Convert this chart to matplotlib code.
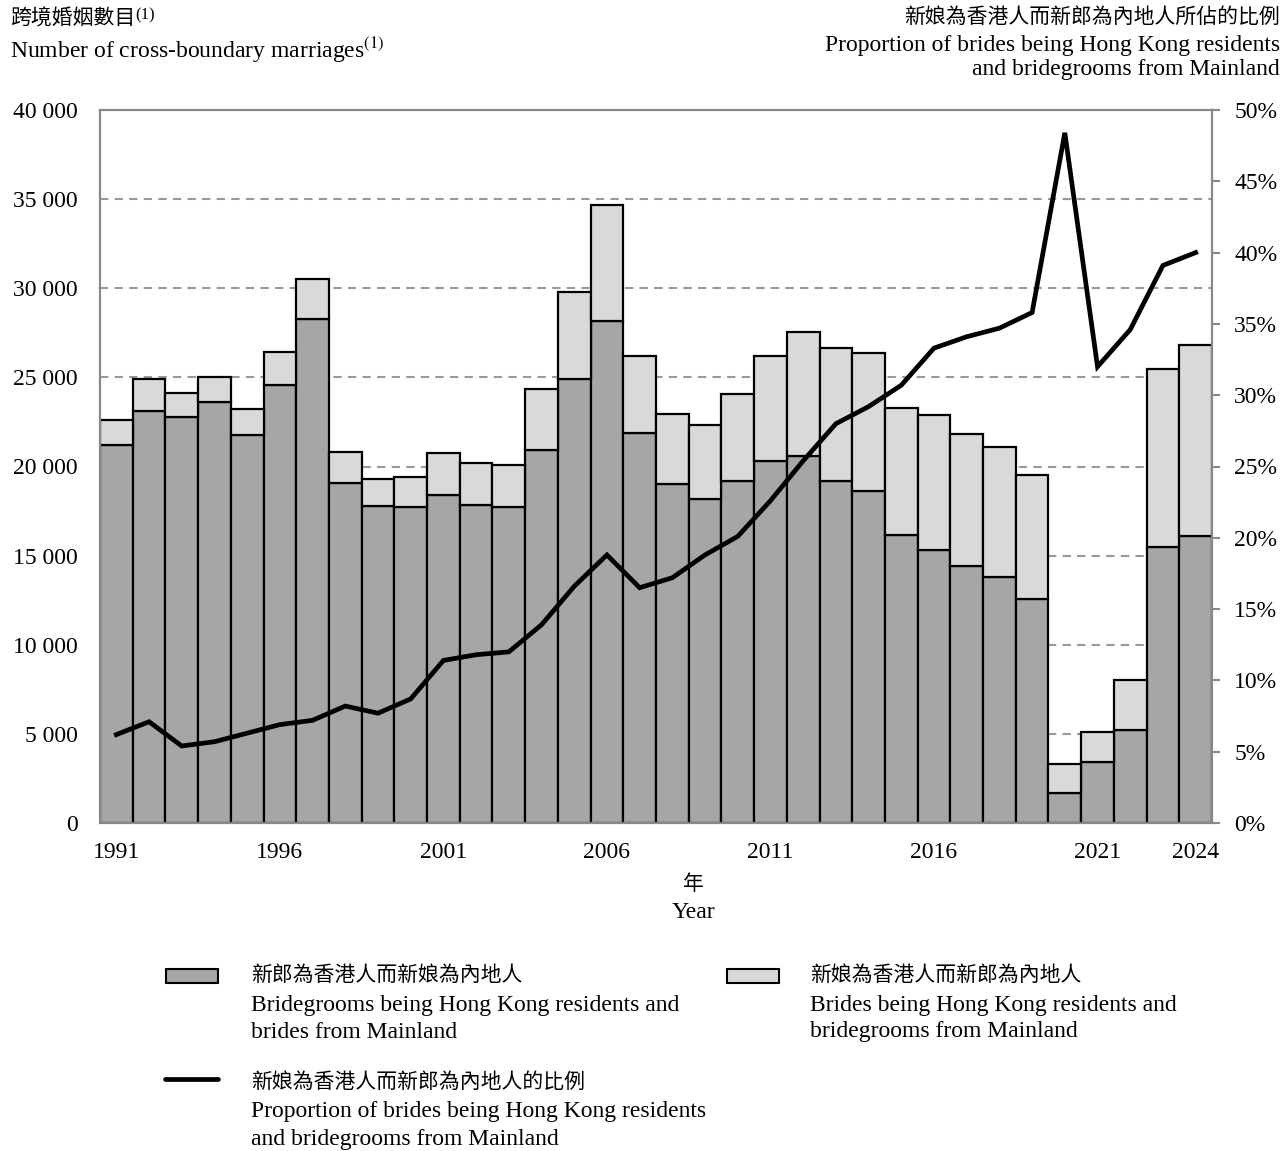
import numpy as np
import matplotlib
matplotlib.use("Agg")
import matplotlib.pyplot as plt
from matplotlib.patches import Rectangle
from matplotlib.lines import Line2D

plt.rcParams['font.family'] = ['Liberation Serif', 'Noto Sans CJK TC']
plt.rcParams['mathtext.fontset'] = 'stix'

# Data
years = list(range(1991, 2025))
groom_hk = [21200, 23100, 22800, 23600, 21750, 24550, 28300, 19100, 17800, 17750,
            18400, 17850, 17700, 20950, 24900, 28150, 21900, 19000, 18150, 19200,
            20300, 20600, 19200, 18650, 16150, 15300, 14400, 13800, 12550,
            1700, 3420, 5230, 15500, 16100]
total = [22600, 24900, 24100, 25000, 23200, 26400, 30500, 20800, 19300, 19400,
         20750, 20200, 20100, 24350, 29800, 34650, 26200, 22950, 22350, 24050,
         26200, 27550, 26650, 26350, 23300, 22900, 21800, 21100, 19550,
         3300, 5090, 8000, 25450, 26800]
bride_hk = [t - g for t, g in zip(total, groom_hk)]
proportion = [6.2, 7.1, 5.4, 5.7, 6.3, 6.9, 7.2, 8.2, 7.7, 8.7,
              11.4, 11.8, 12.0, 13.9, 16.6, 18.8, 16.5, 17.2, 18.8, 20.1,
              22.6, 25.4, 28.0, 29.2, 30.7, 33.3, 34.1, 34.7, 35.8,
              48.4, 32.0, 34.6, 39.1, 40.0]

xtick_years = [1991, 1996, 2001, 2006, 2011, 2016, 2021, 2024]

dark = '#a6a6a6'
light = '#d9d9d9'
W, H = 1284, 1151

fig = plt.figure(figsize=(W / 100, H / 100), dpi=100)
ax = fig.add_axes([100 / W, 1 - 823 / H, 1112 / W, 713 / H])

ax.bar(years, groom_hk, width=1.0, color=dark, edgecolor='black', linewidth=1.6, zorder=2)
ax.bar(years, bride_hk, bottom=groom_hk, width=1.0, color=light, edgecolor='black',
       linewidth=1.6, zorder=2)

ax.set_xlim(1990.5, 2024.5)
ax.set_ylim(0, 40000)
ax.set_yticks(range(0, 40001, 5000))
ax.set_yticklabels([f"{v:,}".replace(",", " ") for v in range(0, 40001, 5000)], fontsize=17)
ax.set_xticks(xtick_years)
ax.set_xticklabels([str(y) for y in xtick_years], fontsize=17)
ax.tick_params(axis='y', length=0, pad=16)
ax.tick_params(axis='x', length=0, pad=14)
for yv in range(5000, 40000, 5000):
    ax.axhline(yv, color='#999999', linestyle=(0, (4, 3)), linewidth=1.5, zorder=1)
for s in ax.spines.values():
    s.set_color('#888888')
    s.set_linewidth(1.5)

ax2 = ax.twinx()
ax2.plot(years, proportion, color='black', linewidth=3.4, zorder=5, solid_joinstyle='miter')
ax2.set_ylim(0, 50)
ax2.set_yticks(range(0, 51, 5))
ax2.set_yticklabels([f"{v}%" for v in range(0, 51, 5)], fontsize=17)
ax2.tick_params(axis='y', length=6, width=1.5, color='#888888', pad=10)
for s in ax2.spines.values():
    s.set_color('#888888')
    s.set_linewidth(1.5)


def px(x, y):
    return x / W, 1 - y / H


# Titles
t1 = fig.text(*px(10, 20), "跨境婚姻數目", fontsize=15, va='center', ha='left')
ax.annotate("(1)", xy=(1.0, 0.75), xycoords=t1, fontsize=12, va='center', ha='left',
            annotation_clip=False)
fig.text(*px(10, 50), "Number of cross-boundary marriages$^{(1)}$", fontsize=17, va='center', ha='left')
fig.text(*px(1280, 18), "新娘為香港人而新郎為內地人所佔的比例", fontsize=15, va='center', ha='right')
fig.text(*px(1280, 45), "Proportion of brides being Hong Kong residents", fontsize=17, va='center', ha='right')
fig.text(*px(1280, 70), "and bridegrooms from Mainland", fontsize=17, va='center', ha='right')

fig.text(*px(693, 885), "年", fontsize=15, va='center', ha='center')
fig.text(*px(693, 913), "Year", fontsize=17, va='center', ha='center')

# Legend
fig.add_artist(Rectangle(px(166, 983), 52 / W, 14 / H, facecolor=dark, edgecolor='black',
                         linewidth=1.5, transform=fig.transFigure))
fig.add_artist(Rectangle(px(727, 983), 52 / W, 14 / H, facecolor=light, edgecolor='black',
                         linewidth=1.5, transform=fig.transFigure))
fig.add_artist(Line2D([165 / W, 218 / W], [1 - 1079 / H] * 2, color='black', linewidth=3.4,
                      solid_capstyle='round', transform=fig.transFigure))

fig.text(*px(251, 976), "新郎為香港人而新娘為內地人", fontsize=15, va='center')
fig.text(*px(251, 1006), "Bridegrooms being Hong Kong residents and", fontsize=17, va='center')
fig.text(*px(251, 1032), "brides from Mainland", fontsize=17, va='center')
fig.text(*px(810, 976), "新娘為香港人而新郎為內地人", fontsize=15, va='center')
fig.text(*px(810, 1006), "Brides being Hong Kong residents and", fontsize=17, va='center')
fig.text(*px(810, 1032), "bridegrooms from Mainland", fontsize=17, va='center')
fig.text(*px(251, 1083), "新娘為香港人而新郎為內地人的比例", fontsize=15, va='center')
fig.text(*px(251, 1112), "Proportion of brides being Hong Kong residents", fontsize=17, va='center')
fig.text(*px(251, 1139), "and bridegrooms from Mainland", fontsize=17, va='center')

fig.savefig("out.png", dpi=100)
